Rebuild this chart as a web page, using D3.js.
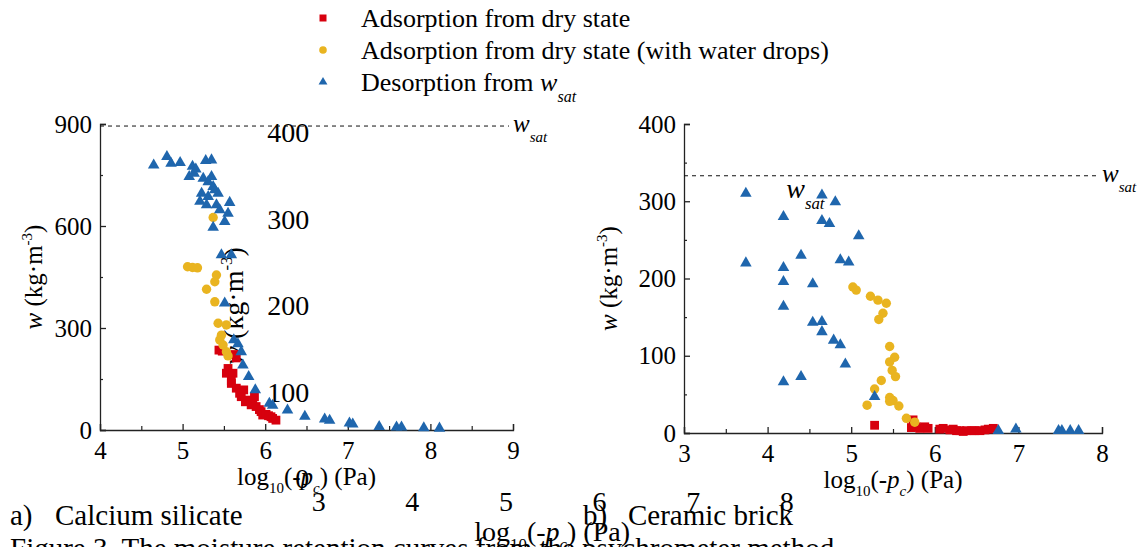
<!DOCTYPE html>
<html>
<head>
<meta charset="utf-8">
<script src="https://cdn.jsdelivr.net/npm/d3@7"></script>
<style>
  html, body { margin: 0; background: #fff; }
  svg { display: block; font-family: "Liberation Serif", "Times New Roman", serif; }
</style>
</head>
<body>
<svg id="fig" width="1141" height="547"></svg>
<script>
// ---- data ----
const legendLabels = ["Adsorption from dry state", "Adsorption from dry state (with water drops)", "Desorption from "];

// a) calcium silicate: [log10(-pc), w]
const calciumDry = [[5.44,235],[5.48,232],[5.63,222],[5.65,212],[5.55,181],[5.53,167],[5.61,167],[5.59,145],[5.59,137],
  [5.65,123],[5.74,118],[5.69,108],[5.71,98],[5.87,98],[5.76,83],[5.79,88],[5.83,74],[5.85,78],[5.89,69],
  [5.93,60],[5.95,54],[5.97,44],[6.01,46],[6.04,42],[6.07,39],[6.09,34],[6.13,29]];
const calciumDrops = [[5.37,625],[5.06,480],[5.12,478],[5.18,477],[5.41,456],[5.39,436],[5.29,414],[5.39,377],
  [5.43,314],[5.53,309],[5.47,279],[5.45,265],[5.49,250],[5.53,230],[5.55,218]];
const calciumDes = [[4.65,779],[4.81,804],[4.86,784],[4.97,786],[5.12,775],[5.16,767],[5.08,745],[5.14,755],[5.28,792],
  [5.35,794],[5.25,740],[5.31,730],[5.35,745],[5.37,716],[5.39,706],[5.23,696],[5.21,672],[5.31,686],[5.43,696],
  [5.29,662],[5.41,662],[5.45,647],[5.57,669],[5.55,637],[5.51,613],[5.37,596],[5.47,515],[5.59,515],[5.51,373],
  [5.62,265],[5.67,253],[5.71,230],[5.73,191],[5.80,157],[5.88,118],[6.05,78],[6.09,72],[6.27,58],[6.48,40],
  [6.72,32],[6.78,28],[7.02,20],[7.06,17],[7.38,10],[7.59,8],[7.65,8],[7.92,6],[8.11,5]];
const calciumSat = 894;

// b) ceramic brick
const brickDry = [[5.28,10],[5.74,17],[5.72,7],[5.78,8],[5.82,6],[5.88,8],[5.92,6],[6.06,5],[6.10,6],[6.18,4],
  [6.22,5],[6.26,3],[6.30,3],[6.34,2],[6.38,3],[6.44,3],[6.48,3],[6.54,3],[6.60,4],[6.64,5],[6.70,6]];
const brickDrops = [[5.02,189],[5.06,185],[5.23,177],[5.32,172],[5.42,168],[5.38,155],[5.33,147],[5.46,112],
  [5.52,98],[5.46,92],[5.49,81],[5.53,73],[5.36,68],[5.28,57],[5.46,46],[5.50,42],[5.46,41],[5.57,35],
  [5.19,36],[5.66,19],[5.76,14]];
const brickDes = [[3.74,310],[3.74,220],[4.19,280],[4.19,214],[4.19,196],[4.19,164],[4.19,66],[4.40,230],[4.40,73],
  [4.54,193],[4.54,143],[4.65,308],[4.65,275],[4.65,144],[4.65,131],[4.74,271],[4.81,299],[4.79,120],[4.87,114],
  [4.87,224],[4.97,221],[4.93,89],[5.09,255],[5.28,47],[6.76,3],[6.97,5],[7.48,3],[7.52,3],[7.62,3],[7.72,3]];
const brickSat = 333;

const calciumXTicks = [4, 5, 6, 7, 8, 9], calciumYTicks = [0, 300, 600, 900];
const brickXTicks = [3, 4, 5, 6, 7, 8], brickYTicks = [0, 100, 200, 300, 400];

const RED = "#d7000e", GOLD = "#e9b420", BLUE = "#1f66ad";
const svg = d3.select("#fig");
const fmt = d3.format("d");

const panels = [
  { x: d3.scaleLinear([4, 9], [100, 513]), y: d3.scaleLinear([0, 900], [430, 124]),
    xt: calciumXTicks, yt: calciumYTicks, yMinorStep: 150, sat: calciumSat, titleX: 42,
    series: [calciumDry, calciumDrops, calciumDes] },
  { x: d3.scaleLinear([3, 8], [684, 1102]), y: d3.scaleLinear([0, 400], [433, 124]),
    xt: brickXTicks, yt: brickYTicks, yMinorStep: 50, sat: brickSat, titleX: 617,
    series: [brickDry, brickDrops, brickDes] }
];

function styleText(sel, size) {
  sel.attr("font-family", null);
  sel.selectAll("text").attr("font-size", size).attr("fill", "#000");
}

// Axis lines + tick labels + titles; `bare` keeps only the text.
function drawFrame(g, p, bare) {
  const [xa, xb] = p.x.range(), [ya, yb] = p.y.range();
  const yAx = g.append("g").attr("transform", `translate(${xa},0)`)
    .call(d3.axisLeft(p.y).tickValues(p.yt).tickFormat(fmt).tickSize(-6).tickPadding(8));
  const xAx = g.append("g").attr("transform", `translate(0,${ya})`)
    .call(d3.axisBottom(p.x).tickValues(p.xt).tickFormat(fmt).tickSize(-6).tickPadding(11));
  styleText(yAx, 25); styleText(xAx, 25);
  if (bare) {
    g.selectAll("path.domain, .tick line").remove();
  } else {
    g.selectAll("path.domain, .tick line").attr("stroke", "#222").attr("stroke-width", 1.3);
    const yMin = d3.range(p.yMinorStep, p.y.domain()[1], p.yMinorStep * 2);
    const xMin = d3.range(p.x.domain()[0] + 0.5, p.x.domain()[1], 1);
    g.append("g").attr("transform", `translate(${xa},0)`)
      .call(d3.axisLeft(p.y).tickValues(yMin).tickSize(-3).tickFormat(""))
      .call(s => s.select(".domain").remove())
      .selectAll("line").attr("stroke", "#222").attr("stroke-width", 1.2);
    g.append("g").attr("transform", `translate(0,${ya})`)
      .call(d3.axisBottom(p.x).tickValues(xMin).tickSize(-4).tickFormat(""))
      .call(s => s.select(".domain").remove())
      .selectAll("line").attr("stroke", "#222").attr("stroke-width", 1.2);
  }
  // x title
  const xt = g.append("text").attr("x", (xa + xb) / 2).attr("y", ya + 55)
    .attr("text-anchor", "middle").attr("font-size", 25);
  xt.append("tspan").text("log");
  xt.append("tspan").attr("font-size", 15).attr("dy", 8).text("10");
  xt.append("tspan").attr("dy", -8).text("(-");
  xt.append("tspan").attr("font-style", "italic").text("p");
  xt.append("tspan").attr("font-style", "italic").attr("font-size", 15).attr("dy", 8).text("c");
  xt.append("tspan").attr("dy", -8).text(") (Pa)");
  // y title
  const yt = g.append("text").attr("text-anchor", "middle").attr("font-size", 25)
    .attr("transform", `translate(${p.titleX},${(ya + yb) / 2}) rotate(-90)`);
  yt.append("tspan").attr("font-style", "italic").text("w");
  yt.append("tspan").text(" (kg·m");
  yt.append("tspan").attr("font-size", 15).attr("dy", -10).text("-3");
  yt.append("tspan").attr("dy", 10).text(")");
  // w_sat label
  const ws = g.append("text").attr("x", xb).attr("y", p.y(p.sat) + 6)
    .attr("font-size", 25).attr("font-style", "italic");
  ws.append("tspan").text("w");
  ws.append("tspan").attr("font-size", 15).attr("dy", 10).text("sat");
}

function drawMarks(g, p) {
  g.append("line").attr("x1", p.x.range()[0]).attr("x2", p.x.range()[1] - 4)
    .attr("y1", p.y(p.sat)).attr("y2", p.y(p.sat))
    .attr("stroke", "#111").attr("stroke-width", 1).attr("stroke-dasharray", "4,4");
  const [dry, drops, des] = p.series;
  g.append("g").selectAll("rect").data(dry).join("rect")
    .attr("x", d => p.x(d[0]) - 4.4).attr("y", d => p.y(d[1]) - 4.4)
    .attr("width", 8.8).attr("height", 8.8).attr("fill", RED);
  g.append("g").selectAll("circle").data(drops).join("circle")
    .attr("cx", d => p.x(d[0])).attr("cy", d => p.y(d[1])).attr("r", 4.7).attr("fill", GOLD);
  const tri = d3.symbol(d3.symbolTriangle, 58);
  g.append("g").selectAll("path").data(des).join("path")
    .attr("d", tri).attr("fill", BLUE)
    .attr("transform", d => `translate(${p.x(d[0])},${p.y(d[1])})`);
}

// stray, enlarged copy of panel b's text sitting over panel a
drawFrame(svg.append("g").attr("transform", "translate(-448,-6) scale(1.12)"), panels[1], true);

panels.forEach(p => { const g = svg.append("g"); drawFrame(g, p, false); drawMarks(g, p); });

// legend
const lg = svg.append("g").attr("font-size", 26);
const rowY = [18, 50, 82];
lg.append("rect").attr("x", 319.5).attr("y", rowY[0] - 3.5).attr("width", 7).attr("height", 7).attr("fill", RED);
lg.append("circle").attr("cx", 323).attr("cy", rowY[1]).attr("r", 3.8).attr("fill", GOLD);
lg.append("path").attr("d", d3.symbol(d3.symbolTriangle, 34)).attr("fill", BLUE)
  .attr("transform", `translate(323,${rowY[2]})`);
legendLabels.forEach((t, i) => {
  const tx = lg.append("text").attr("x", 361).attr("y", rowY[i] + 9).text(t);
  if (i === 2) {
    tx.append("tspan").attr("font-style", "italic").text("w");
    tx.append("tspan").attr("font-style", "italic").attr("font-size", 16).attr("dy", 11).text("sat");
  }
});

// captions
const cap = svg.append("g").attr("font-size", 29);
cap.append("text").attr("x", 10).attr("y", 525).text("a)");
cap.append("text").attr("x", 55).attr("y", 525).text("Calcium silicate");
cap.append("text").attr("x", 583).attr("y", 525).text("b)");
cap.append("text").attr("x", 628).attr("y", 525).text("Ceramic brick");
cap.append("text").attr("x", 10).attr("y", 558).text("Figure 3. The moisture retention curves from the psychrometer method");
</script>
</body>
</html>
